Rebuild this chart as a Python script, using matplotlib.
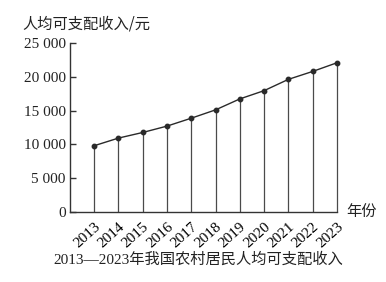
import matplotlib
matplotlib.use('Agg')
from matplotlib import pyplot as plt
from matplotlib.ticker import FuncFormatter

# data
years = [2013, 2014, 2015, 2016, 2017, 2018, 2019, 2020, 2021, 2022, 2023]
income = [9800, 10930, 11760, 12700, 13870, 15100, 16720, 17940, 19610, 20780, 22060]
yticks = [0, 5000, 10000, 15000, 20000, 25000]

num_font = 'Liberation Serif'
cjk_font = ['Noto Sans CJK SC', 'DejaVu Sans']

fig = plt.figure(figsize=(3.86, 2.82), dpi=100)
ax = fig.add_axes([0.181, 0.248, 0.692, 0.60])

# drop lines and the income line
ax.vlines(years, 0, income, color='#4a4a4a', lw=0.9, clip_on=False)
ax.plot(years, income, '-o', color='#2a2a2a', lw=1.0, ms=3.2, clip_on=False)

ax.set_xlim(2012, 2023)
ax.set_ylim(0, 25000)
ax.set_yticks(yticks)
ax.yaxis.set_major_formatter(FuncFormatter(lambda v, p: f'{int(v):,}'.replace(',', ' ')))
ax.set_xticks(years)
ax.set_xticklabels([str(y) for y in years], rotation=42, ha='right', va='top',
                   rotation_mode='anchor', family=num_font, fontsize=11)
ax.tick_params(axis='x', length=0, pad=6)
ax.tick_params(axis='y', direction='in', length=4, width=1, colors='#333', labelsize=11, pad=3)
for lbl in ax.get_yticklabels():
    lbl.set_family(num_font)
    lbl.set_color('#222')

for s in ['top', 'right']:
    ax.spines[s].set_visible(False)
for s in ['left', 'bottom']:
    ax.spines[s].set_color('#333')
    ax.spines[s].set_linewidth(1.0)

fig.text(0.057, 0.915, '人均可支配收入/元', family=cjk_font, fontsize=11, va='center', ha='left', color='#222')
fig.text(0.898, 0.25, '年份', family=cjk_font, fontsize=11, va='center', ha='left', color='#222')
fig.text(0.137, 0.078, '2013—2023年我国农村居民人均可支配收入', family=[num_font, 'Noto Sans CJK SC'],
         fontsize=11, va='center', ha='left', color='#222')

plt.savefig('out.png', dpi=100)
